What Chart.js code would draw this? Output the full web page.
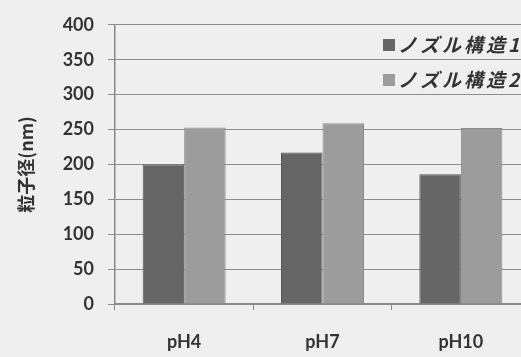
<!DOCTYPE html>
<html>
<head>
<meta charset="utf-8">
<script src="https://cdn.jsdelivr.net/npm/chart.js@4"></script>
<style>
  body { margin: 0; background: #efefef; overflow: hidden; }
  #wrap { width: 540px; height: 357px; position: relative; }
</style>
</head>
<body>
<div id="wrap"><canvas id="chart"></canvas></div>
<script>
// values
const categories = ['pH4', 'pH7', 'pH10'];
const seriesNames = ['ノズル構造1', 'ノズル構造2'];
const nozzle1 = [200, 217, 186];
const nozzle2 = [253, 259, 252];
const yTicks = [0, 50, 100, 150, 200, 250, 300, 350, 400];

const textColor = '#333333';
const tickFont = { family: 'Lato, "Noto Sans", sans-serif', size: 18, weight: 'bold' };

// legend drawn inside the plot area, as in the original
const innerLegend = {
    id: 'innerLegend',
    afterDraw(chart) {
        const ctx = chart.ctx;
        ctx.save();
        ctx.font = 'italic bold 19px "Noto Sans CJK JP", sans-serif';
        ctx.letterSpacing = '3px';
        ctx.textBaseline = 'middle';
        chart.data.datasets.forEach((ds, i) => {
            const y = 45 + i * 35;
            ctx.fillStyle = ds.backgroundColor;
            ctx.fillRect(383, y - 6, 12, 12);
            ctx.fillStyle = textColor;
            ctx.fillText(ds.label, 398, y);
        });
        ctx.restore();
    }
};

const ctx = document.getElementById('chart').getContext('2d');
new Chart(ctx, {
    type: 'bar',
    data: {
        labels: categories,
        datasets: [{
            label: seriesNames[0],
            data: nozzle1,
            backgroundColor: '#666666',
            borderColor: '#555555',
            borderWidth: 1
        }, {
            label: seriesNames[1],
            data: nozzle2,
            backgroundColor: '#9c9c9c',
            borderColor: '#8a8a8a',
            borderWidth: 1
        }]
    },
    options: {
        responsive: true,
        maintainAspectRatio: false,
        animation: false,
        layout: { padding: { top: 20, right: 10, left: 0, bottom: 0 } },
        plugins: {
            legend: { display: false },
            tooltip: { enabled: false }
        },
        datasets: {
            bar: { categoryPercentage: 0.6, barPercentage: 1.0 }
        },
        scales: {
            x: {
                offset: true,
                grid: { offset: true, drawOnChartArea: false, drawTicks: true, tickLength: 6, color: '#888888' },
                border: { color: '#888888', width: 1.5 },
                ticks: { color: textColor, font: tickFont, padding: 21 },
                afterFit(scale) { scale.height = 53; }
            },
            y: {
                min: 0,
                max: 400,
                afterBuildTicks(scale) { scale.ticks = yTicks.map(v => ({ value: v })); },
                grid: { color: '#8c8c8c', lineWidth: 1, tickLength: 7 },
                border: { color: '#888888', width: 1.5 },
                ticks: { color: textColor, font: tickFont, padding: 14 },
                title: {
                    display: true,
                    text: '粒子径(nm)',
                    color: textColor,
                    font: { family: '"Noto Sans CJK JP", sans-serif', size: 18, weight: 'bold' },
                    padding: { top: 15, bottom: 0 }
                },
                afterFit(scale) { scale.width = 115; }
            }
        }
    },
    plugins: [innerLegend]
});
</script>
</body>
</html>
